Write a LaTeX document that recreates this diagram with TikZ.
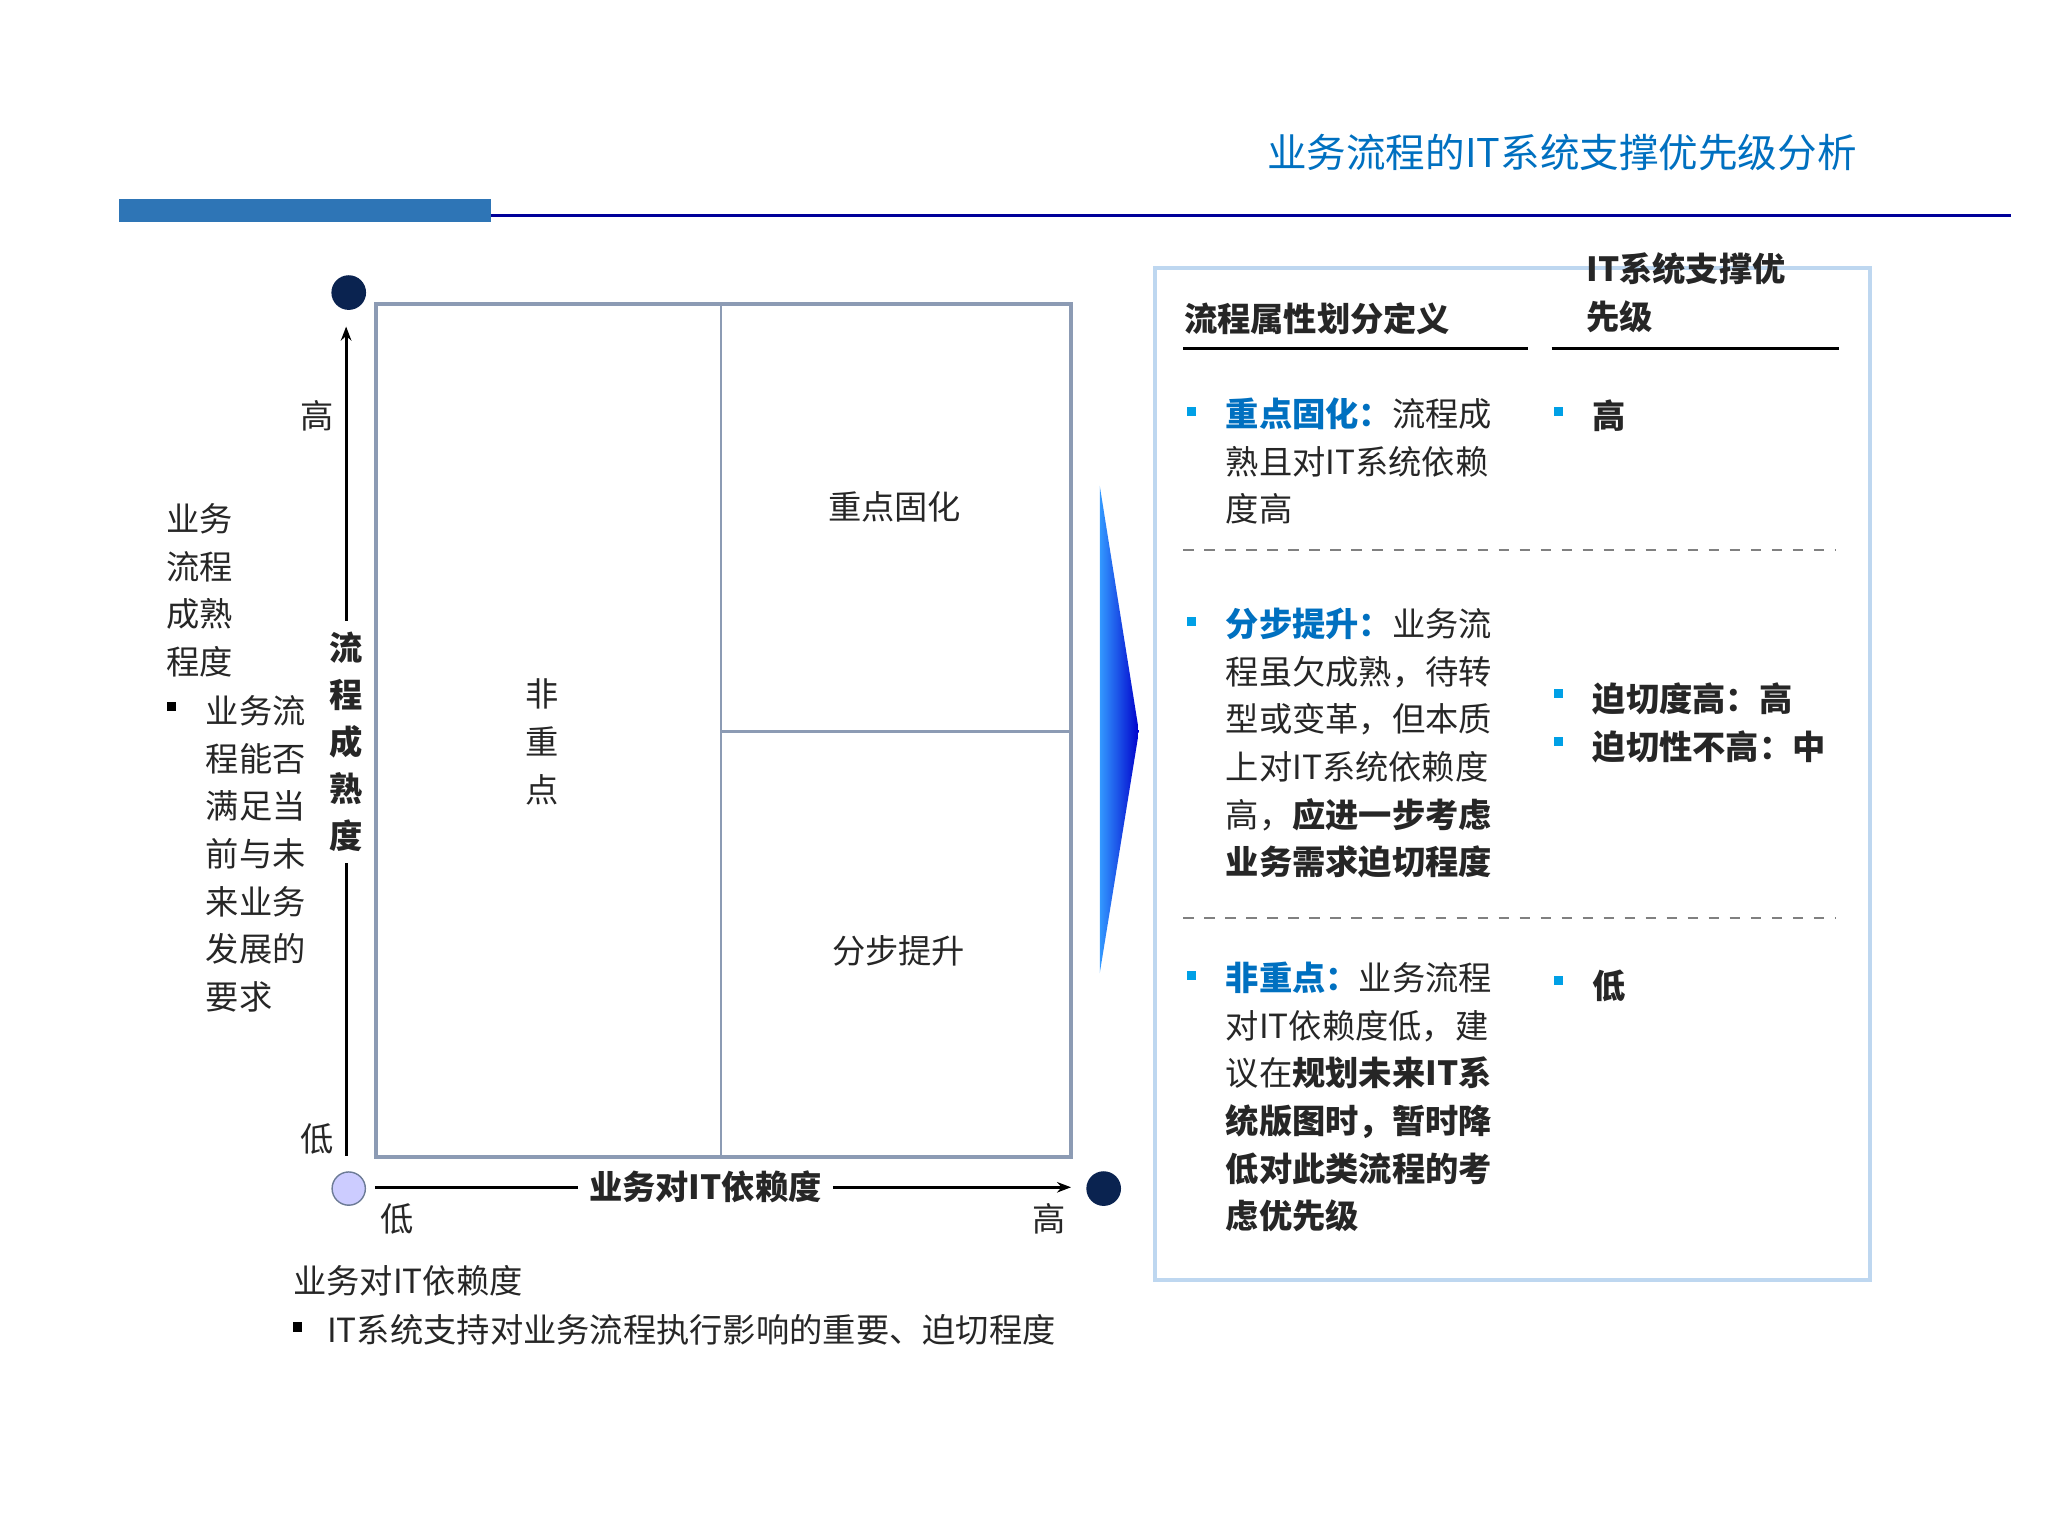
\documentclass[tikz,border=0pt]{standalone}
\usepackage{fontspec}
\setmainfont{Noto Sans CJK SC}
\usetikzlibrary{arrows.meta}
\definecolor{ttl}{RGB}{0,112,192}
\definecolor{barb}{RGB}{46,117,182}
\definecolor{navy}{RGB}{10,35,80}
\definecolor{mgray}{RGB}{140,155,180}
\definecolor{bxb}{RGB}{190,215,240}
\definecolor{bul}{RGB}{0,160,230}
\definecolor{kw}{RGB}{0,112,192}
\tikzset{
 t/.style={font=\fontsize{9.5}{13.6}\selectfont,inner sep=0pt,text=black!85},
 tw/.style={t,anchor=west},
 sq/.style={fill=bul,minimum size=2.6pt,inner sep=0pt},
 dl/.style={dashed,gray,line width=0.5pt}
}
\begin{document}
\begin{tikzpicture}[x=0.0131cm,y=-0.0131cm]
\useasboundingbox (0,0) rectangle (1568,1176);
\node[anchor=east,inner sep=0pt,text=ttl,font=\fontsize{11.3}{14}\selectfont] (title) at (1422,117) {业务流程的IT系统支撑优先级分析};
\fill[barb] (91,152) rectangle (376,170);
\draw[blue!60!black,line width=1.1pt] (376,165) -- (1540,165);
% matrix
\draw[mgray,line width=1.2pt] (288,233) rectangle (820,886);
\draw[mgray,line width=0.8pt] (552,233) -- (552,886);
\draw[mgray,line width=0.8pt] (552,560) -- (820,560);
\node[t] (q1) at (685,388) {重点固化};
\node[t] (q2) at (688,728) {分步提升};
\node[t,align=center] (q3) at (415,568) {非\\重\\点};
% circles
\node[circle,fill=navy,draw=navy,inner sep=0pt,minimum width=9.5pt] (ctop) at (267,224) {};
\node[circle,fill=blue!20,draw=navy!60,inner sep=0pt,minimum width=9.5pt] (corig) at (267,910) {};
\node[circle,fill=navy,draw=navy,inner sep=0pt,minimum width=9.5pt] (cright) at (845,910) {};
% axes
\node[t,font=\fontsize{9.5}{13.4}\selectfont\bfseries\itshape,align=center] (yl) at (265,568) {流\\程\\成\\熟\\度};
\coordinate (ybot) at (265,885);
\coordinate (ytop) at (265,250);
\draw[line width=0.8pt] (ybot) -- ([yshift=-3pt]yl.south);
\draw[line width=0.8pt,-{Stealth[length=4pt]}] ([yshift=3pt]yl.north) -- (ytop);
\node[t,font=\fontsize{9.5}{11}\selectfont\bfseries\itshape] (xl) at (540,909) {业务对IT依赖度};
\coordinate (xl0) at (287,909);
\coordinate (xr) at (820,909);
\draw[line width=0.8pt] (xl0) -- ([xshift=-3pt]xl.west);
\draw[line width=0.8pt,-{Stealth[length=4pt]}] ([xshift=3pt]xl.east) -- (xr);
\node[t] (yh) at (243,318) {高};
\node[t] (ylo) at (243,872) {低};
\node[t] (xlo) at (304,933) {低};
\node[t] (xhi) at (803,933) {高};
% left text
\node[t,anchor=north west,align=left] (lt) at (127,385) {业务\\流程\\成熟\\程度};
\node[t,anchor=north west,align=left] (lb) at (157,532) {业务流\\程能否\\满足当\\前与未\\来业务\\发展的\\要求};
\node[fill=black,minimum size=2.6pt,inner sep=0pt] (lbb) at (131,541) {};
% bottom text
\node[tw] (bt) at (224,981) {业务对IT依赖度};
\node[fill=black,minimum size=2.6pt,inner sep=0pt] (bb) at (228,1016) {};
\node[tw] (bt2) at (250,1018) {IT系统支持对业务流程执行影响的重要、迫切程度};
% big arrow
\shade[left color=blue!50!cyan!80!white,right color=blue!80!black] (842,372) -- (872,560) -- (842,745) -- cycle;
% right box
\draw[bxb,line width=1.2pt] (884,205) rectangle (1432,980);
\node[tw,font=\fontsize{9.5}{11}\selectfont\bfseries] (h1) at (906,244) {流程属性划分定义};
\node[tw,font=\fontsize{9.5}{13.6}\selectfont\bfseries,align=left,anchor=north west] (h2) at (1214,193) {IT系统支撑优\\先级};
\draw[line width=1pt] (906,267) -- (1170,267);
\draw[line width=1pt] (1188,267) -- (1408,267);
\draw[dl] (906,421) -- (1405,421);
\draw[dl] (906,703) -- (1405,703);
\node[sq] (b1) at (912,315) {};
\node[sq] (b2) at (912,476) {};
\node[sq] (b3) at (912,747) {};
\node[tw,anchor=north west,align=left] (r1) at (938,304) {\textcolor{kw}{\bfseries 重点固化：}流程成\\熟且对IT系统依赖\\度高};
\node[tw,anchor=north west,align=left] (r2) at (938,465) {\textcolor{kw}{\bfseries 分步提升：}业务流\\程虽欠成熟，待转\\型或变革，但本质\\上对IT系统依赖度\\高，\textbf{应进一步考虑}\\\textbf{业务需求迫切程度}};
\node[tw,anchor=north west,align=left] (r3) at (938,736) {\textcolor{kw}{\bfseries 非重点：}业务流程\\对IT依赖度低，建\\议在\textbf{规划未来IT系}\\\textbf{统版图时，暂时降}\\\textbf{低对此类流程的考}\\\textbf{虑优先级}};
\node[sq] (p1) at (1193,315) {};
\node[sq] (p2) at (1193,531) {};
\node[sq] (p3) at (1193,568) {};
\node[sq] (p4) at (1193,751) {};
\node[tw,font=\fontsize{9.5}{11}\selectfont\bfseries] (pt1) at (1219,318) {高};
\node[tw,font=\fontsize{9.5}{11}\selectfont\bfseries] (pt2) at (1219,535) {迫切度高：高};
\node[tw,font=\fontsize{9.5}{11}\selectfont\bfseries] (pt3) at (1219,572) {迫切性不高：中};
\node[tw,font=\fontsize{9.5}{11}\selectfont\bfseries] (pt4) at (1219,755) {低};
\end{tikzpicture}
\end{document}
